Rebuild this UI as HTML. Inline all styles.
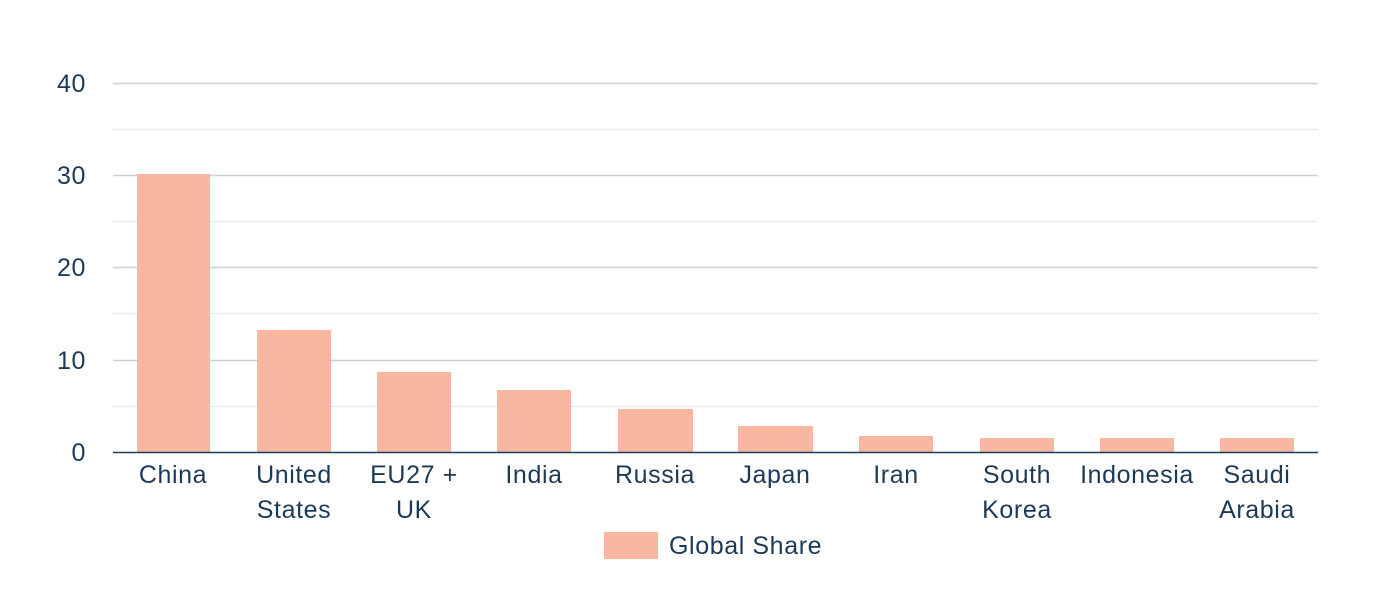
<!DOCTYPE html>
<html><head><style>body{margin:0;background:#fff}svg{display:block}text{font-family:"Liberation Sans",sans-serif;fill:#1b3a5a;letter-spacing:0.6px}</style></head>
<body>
<svg width="1392" height="601" viewBox="0 0 1392 601">
<g stroke="#ececec" stroke-width="1.5">
<line x1="113" x2="1318" y1="129.5" y2="129.5"/><line x1="113" x2="1318" y1="221.5" y2="221.5"/><line x1="113" x2="1318" y1="313.5" y2="313.5"/><line x1="113" x2="1318" y1="406.5" y2="406.5"/>
</g>
<g stroke="#cfcfcf" stroke-width="1.5">
<line x1="113" x2="1318" y1="83.5" y2="83.5"/><line x1="113" x2="1318" y1="175.5" y2="175.5"/><line x1="113" x2="1318" y1="267.5" y2="267.5"/><line x1="113" x2="1318" y1="360.5" y2="360.5"/>
</g>
<g fill="#f9b7a2">
<rect x="137" y="174" width="73" height="278"/>
<rect x="257" y="330" width="74" height="122"/>
<rect x="377" y="372" width="74" height="80"/>
<rect x="497" y="390" width="74" height="62"/>
<rect x="618" y="409" width="75" height="43"/>
<rect x="738" y="426" width="75" height="26"/>
<rect x="859" y="436" width="74" height="16"/>
<rect x="980" y="438" width="74" height="14"/>
<rect x="1100" y="438" width="74" height="14"/>
<rect x="1220" y="438" width="74" height="14"/>
</g>
<line x1="113" x2="1318" y1="452.5" y2="452.5" stroke="#1b3a5a" stroke-width="1.5"/>
<g font-size="25" text-anchor="end">
<text x="86" y="92">40</text><text x="86" y="184">30</text><text x="86" y="276">20</text><text x="86" y="369">10</text><text x="86" y="461">0</text>
</g>
<g font-size="25" text-anchor="middle">
<text x="173" y="483">China</text>
<text x="294" y="483">United</text><text x="294" y="518">States</text>
<text x="414" y="483">EU27 +</text><text x="414" y="518">UK</text>
<text x="534" y="483">India</text>
<text x="655" y="483">Russia</text>
<text x="775" y="483">Japan</text>
<text x="896" y="483">Iran</text>
<text x="1017" y="483">South</text><text x="1017" y="518">Korea</text>
<text x="1137" y="483">Indonesia</text>
<text x="1257" y="483">Saudi</text><text x="1257" y="518">Arabia</text>
</g>
<rect x="604" y="532" width="54" height="27" fill="#f9b7a2"/>
<text x="669" y="554" font-size="25">Global Share</text>
</svg>
</body></html>
